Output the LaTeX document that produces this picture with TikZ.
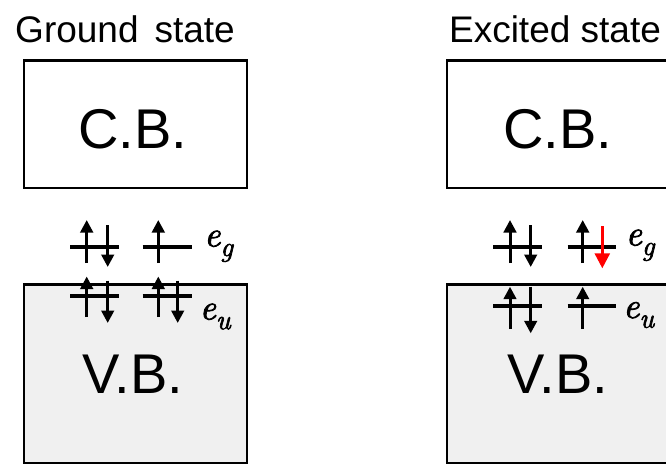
\documentclass[tikz,border=0pt]{standalone}
\usepackage{fontspec}
\setmainfont{Liberation Sans}
\newfontfamily\lmfont{Latin Modern Roman}[FakeBold=2.4]
\usetikzlibrary{arrows.meta}
\definecolor{vbgray}{RGB}{240,240,240}
\definecolor{spinred}{RGB}{255,0,0}
\newcommand{\lvlname}[1]{{\lmfont\itshape e\raisebox{-0.27em}{\fontsize{28}{30}\selectfont #1}}}
\tikzset{
  bandbox/.style={draw=black, line width=2.6pt},
  vbbox/.style={bandbox, fill=vbgray},
  level/.style={line width=4pt},
  spin/.style={line width=3pt, -{Triangle[length=12.5pt,width=12.5pt]}},
  redspin/.style={line width=2.6pt, draw=spinred, fill=spinred, -{Triangle[length=15pt,width=15pt]}},
  heading/.style={font=\fontsize{37}{40}\selectfont, anchor=base, inner sep=0pt},
  bandtext/.style={font=\fontsize{56}{60}\selectfont, anchor=base, inner sep=0pt},
  lvltext/.style={font=\fontsize{36}{38}\selectfont, anchor=base west, inner sep=0pt},
}
\begin{document}
\begin{tikzpicture}[x=1pt,y=-1pt]
\useasboundingbox (0,0) rectangle (666,464);
% headings
\node[heading] (gs) at (125,42) {Ground\hspace{0.43em}state};
\node[heading] (es) at (555,42) {Excited state};
% conduction bands
\draw[bandbox] (24,60.7) rectangle (247,188);
\draw[bandbox] (447,60.7) rectangle (670,188);
\node[bandtext] (cbl) at (133,148) {C.B.};
\node[bandtext] (cbr) at (558,148) {C.B.};
% valence bands
\draw[vbbox] (24,284.3) rectangle (247,463);
\draw[vbbox] (447,284.3) rectangle (670,463);
\node[bandtext] (vbl) at (133,393) {V.B.};
\node[bandtext] (vbr) at (558,393) {V.B.};
% ---------- ground state ----------
% e_g
\draw[level] (70,246.7) -- (119,246.7);
\draw[level] (142.7,246.7) -- (191.7,246.7);
\draw[spin] (86.7,263) -- (86.7,220);
\draw[spin] (107.7,225) -- (107.7,267);
\draw[spin] (158.3,263) -- (158.3,220);
\node[lvltext] (egl) at (204,246.5) {\lvlname{g}};
% e_u
\draw[level] (70,295.7) -- (119,295.7);
\draw[level] (142.7,295.7) -- (191.7,295.7);
\draw[spin] (86.7,317) -- (86.7,276.5);
\draw[spin] (107.7,280.7) -- (107.7,323);
\draw[spin] (158.3,317) -- (158.3,276.5);
\draw[spin] (177.7,280.7) -- (177.7,323);
\node[lvltext] (eul) at (199.5,319.5) {\lvlname{u}};
% ---------- excited state ----------
% e_g
\draw[level] (493.3,246.7) -- (541.7,246.7);
\draw[level] (567.7,246.7) -- (615.7,246.7);
\draw[spin] (510,263) -- (510,220);
\draw[spin] (530.7,225) -- (530.7,267);
\draw[spin] (582.7,263) -- (582.7,220);
\draw[redspin] (602.3,226) -- (602.3,268.3);
\node[lvltext] (egr) at (625.5,245.5) {\lvlname{g}};
% e_u
\draw[level] (493.3,306) -- (541.7,306);
\draw[level] (567.7,306) -- (615.7,306);
\draw[spin] (510,329) -- (510,286.7);
\draw[spin] (530.7,286.7) -- (530.7,333.3);
\draw[spin] (582.7,329) -- (582.7,286.7);
\node[lvltext] (eur) at (623,318) {\lvlname{u}};
\end{tikzpicture}
\end{document}
